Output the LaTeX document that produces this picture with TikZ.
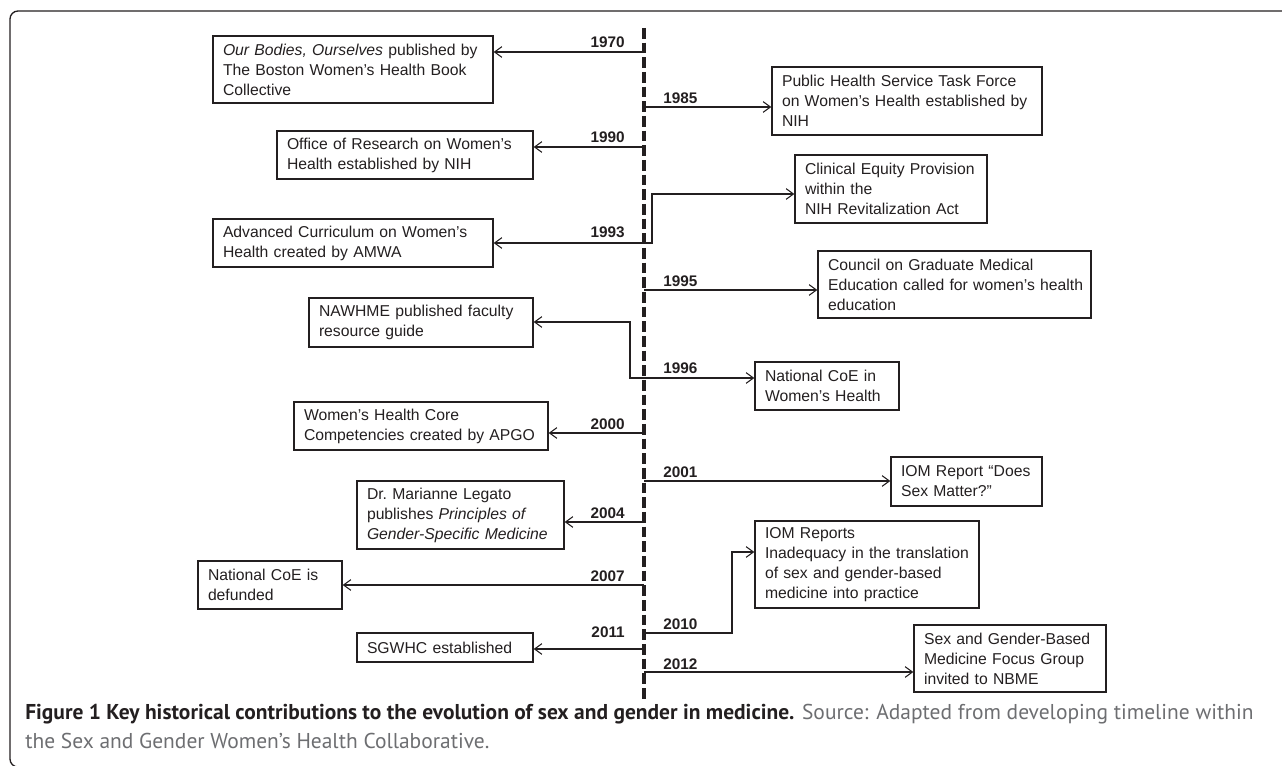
\documentclass[tikz,border=0pt]{standalone}
\usepackage{fontspec}
\setmainfont{Liberation Sans}
\newfontfamily\capfont{PT Sans}
\usetikzlibrary{arrows.meta}
\definecolor{ink}{HTML}{231F20}
\definecolor{capgray}{HTML}{6D6E71}
\tikzset{
  evbox/.style={draw=ink, line width=1pt, text=ink, font=\fontsize{11.8}{15}\selectfont,
                align=left, inner xsep=7.5pt, inner ysep=0pt},
  yrlab/.style={font=\fontsize{11.5}{14}\selectfont\bfseries, text=ink, inner sep=0pt},
  timeline/.style={draw=ink, line width=3pt, dash pattern=on 8pt off 3pt},
  conn/.style={draw=ink, line width=0.8pt, -{Straight Barb[length=5.5pt,width=8pt,line width=0.8pt]}},
  framestyle/.style={draw=ink, line width=1pt, rounded corners=6pt},
}
\newcommand\evnode[6]{%
  \pgfmathsetmacro\evw{(#4-#2)*0.75}%
  \pgfmathsetmacro\evh{(#5-#3)*0.75}%
  \pgfmathsetmacro\evtw{(#4-#2-20)*0.75}%
  \node[evbox, minimum width=\evw pt, minimum height=\evh pt, text width=\evtw pt]
    (#1) at ({(#2+#4)/2},{(#3+#5)/2}) {#6};%
}
\begin{document}
\begin{tikzpicture}[x=0.75pt, y=-0.75pt]
\useasboundingbox (0,0) rectangle (1282,766);
% frame
\draw[framestyle] (1290,11) -- (10,11) -- (10,767) -- (1290,767);
% timeline
\coordinate (ttop) at (644,28);
\coordinate (tbot) at (644,700);
\draw[timeline] (ttop) -- (tbot);
% boxes
\evnode{e1970}{213}{36}{493}{103}{\textit{Our Bodies, Ourselves} published by\\The Boston Women’s Health Book\\Collective}
\evnode{e1985}{772}{67}{1042}{135}{Public Health Service Task Force\\on Women’s Health established by\\NIH}
\evnode{e1990}{277}{131}{533}{179}{Office of Research on Women’s\\Health established by NIH}
\evnode{e1993a}{213}{219}{493}{267}{Advanced Curriculum on Women’s\\Health created by AMWA}
\evnode{e1993b}{795}{155}{987}{223}{Clinical Equity Provision\\within the\\NIH Revitalization Act}
\evnode{e1995}{818}{251}{1091}{318}{Council on Graduate Medical\\\mbox{Education called for women’s health}\\education}
\evnode{e1996a}{309}{298}{533}{347}{NAWHME published faculty\\resource guide}
\evnode{e1996b}{755}{362}{899}{410}{National CoE in\\Women’s Health}
\evnode{e2000}{294}{402}{548}{450}{Women’s Health Core\\Competencies created by APGO}
\evnode{e2001}{891}{457}{1042}{506}{IOM Report “Does\\Sex Matter?”}
\evnode{e2004}{357}{481}{564}{549}{Dr.\ Marianne Legato\\publishes \textit{Principles of}\\\textit{Gender-Specific Medicine}}
\evnode{e2007}{198}{561}{342}{609}{National CoE is\\defunded}
\evnode{e2010}{755}{521}{979}{608}{IOM Reports\\Inadequacy in the translation\\of sex and gender-based\\medicine into practice}
\evnode{e2011}{357}{633}{533}{662}{SGWHC established}
\evnode{e2012}{914}{625}{1106}{692}{Sex and Gender-Based\\Medicine Focus Group\\invited to NBME}
% timeline points
\coordinate (t1970) at (644,52);
\coordinate (t1985) at (644,107);
\coordinate (t1990) at (644,147);
\coordinate (t1993) at (644,243);
\coordinate (k1993) at (652,194);
\coordinate (t1995) at (644,290);
\coordinate (t1996) at (644,378);
\coordinate (k1996) at (630,322);
\coordinate (t2000) at (644,433);
\coordinate (t2001) at (644,481);
\coordinate (t2004) at (644,522);
\coordinate (t2007) at (644,585);
\coordinate (t2010) at (644,633);
\coordinate (k2010) at (732,552);
\coordinate (t2011) at (644,649);
\coordinate (t2012) at (644,672);
% connectors
\draw[conn] (t1970) -- (t1970 -| e1970.east);
\draw[conn] (t1985) -- (t1985 -| e1985.west);
\draw[conn] (t1990) -- (t1990 -| e1990.east);
\draw[conn] (t1993) -- (t1993 -| e1993a.east);
\draw[conn] (t1993) -| (k1993) -- (k1993 -| e1993b.west);
\draw[conn] (t1995) -- (t1995 -| e1995.west);
\draw[conn] (t1996) -| (k1996) -- (k1996 -| e1996a.east);
\draw[conn] (t1996) -- (t1996 -| e1996b.west);
\draw[conn] (t2000) -- (t2000 -| e2000.east);
\draw[conn] (t2001) -- (t2001 -| e2001.west);
\draw[conn] (t2004) -- (t2004 -| e2004.east);
\draw[conn] (t2007) -- (t2007 -| e2007.east);
\draw[conn] (t2010) -| (k2010) -- (k2010 -| e2010.west);
\draw[conn] (t2011) -- (t2011 -| e2011.east);
\draw[conn] (t2012) -- (t2012 -| e2012.west);
% year labels
\node[yrlab, anchor=base east] (y1970) at (625,48) {1970};
\node[yrlab, anchor=base west] (y1985) at (663,104) {1985};
\node[yrlab, anchor=base east] (y1990) at (625,143) {1990};
\node[yrlab, anchor=base east] (y1993) at (625,238) {1993};
\node[yrlab, anchor=base west] (y1995) at (663,287) {1995};
\node[yrlab, anchor=base west] (y1996) at (663,374) {1996};
\node[yrlab, anchor=base east] (y2000) at (625,430) {2000};
\node[yrlab, anchor=base west] (y2001) at (663,478) {2001};
\node[yrlab, anchor=base east] (y2004) at (625,518) {2004};
\node[yrlab, anchor=base east] (y2007) at (625,581) {2007};
\node[yrlab, anchor=base west] (y2010) at (663,629) {2010};
\node[yrlab, anchor=base east] (y2011) at (625,637) {2011};
\node[yrlab, anchor=base west] (y2012) at (663,669) {2012};
% caption (base anchor = baseline of last line)
\node[anchor=base west, inner sep=0pt, align=left, text=ink,
      font=\capfont\fontsize{16.1}{21.75}\selectfont] (cap) at (25,748)
  {\textbf{Figure 1 Key historical contributions to the evolution of sex and gender in medicine.} \textcolor{capgray}{Source: Adapted from developing timeline within}\\
   \textcolor{capgray}{the Sex and Gender Women’s Health Collaborative.}};
\end{tikzpicture}
\end{document}
